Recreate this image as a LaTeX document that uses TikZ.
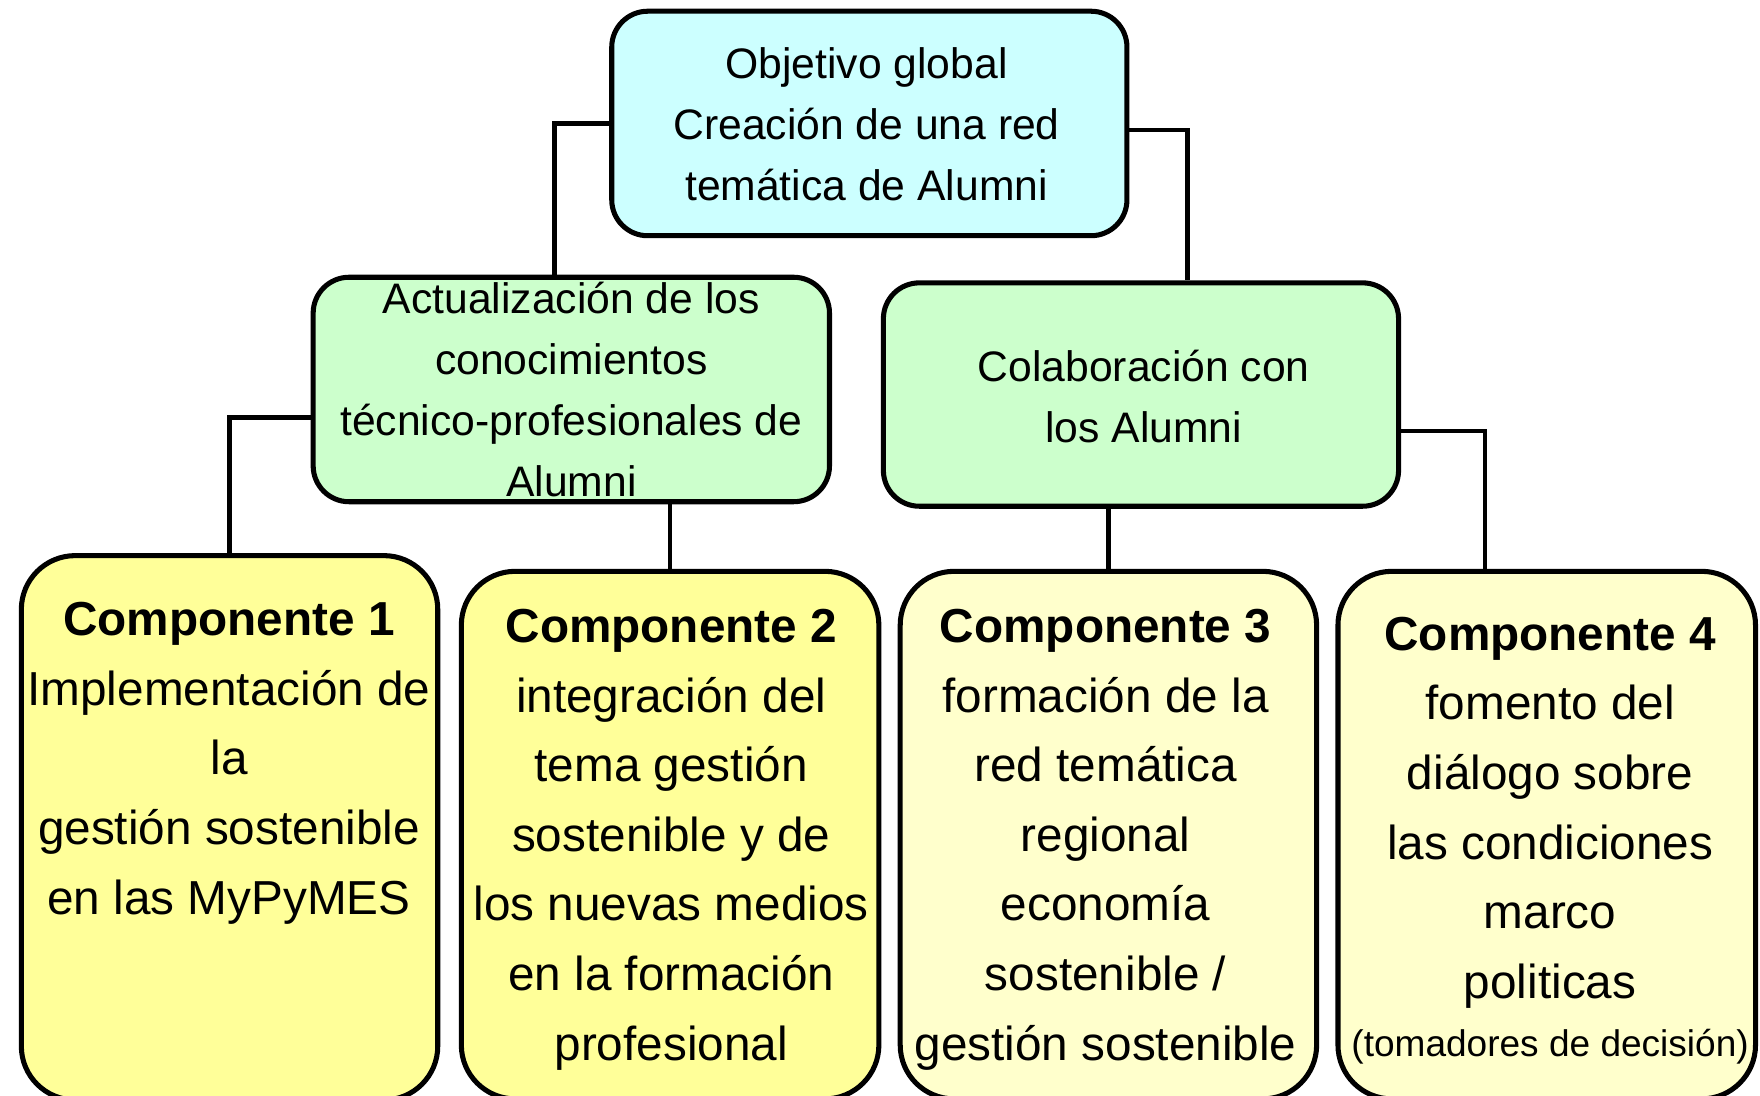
\documentclass[tikz,border=0pt]{standalone}
\usepackage{fontspec}
\setmainfont{Liberation Sans}
\definecolor{topc}{HTML}{CCFFFF}
\definecolor{greenc}{HTML}{CCFFCC}
\definecolor{yelA}{HTML}{FFFF99}
\definecolor{yelB}{HTML}{FFFFCC}
\tikzset{
  boxbase/.style={draw=black, line width=4.5pt, rectangle, inner sep=0pt},
  topbox/.style={boxbase, fill=topc, rounded corners=32pt, minimum width=459pt, minimum height=200pt},
  greenbox/.style={boxbase, fill=greenc, rounded corners=32pt, minimum width=460pt, minimum height=200pt},
  compbox/.style={boxbase, rounded corners=48pt, minimum width=372pt, minimum height=470pt},
  conn/.style={draw=black, line width=4pt},
  midtxt/.style={inner sep=0pt, align=center, font=\fontsize{38}{54.5}\selectfont},
  comptxt/.style={inner sep=0pt, align=center, font=\fontsize{42.5}{62}\selectfont}
}
\begin{document}
\begin{tikzpicture}[x=1pt,y=-1pt]
\useasboundingbox (0,0) rectangle (1568,976);
\clip (0,0) rectangle (1568,976);
% boxes
\node[topbox] (top) at (774.5,110) {};
\node[greenbox] (ga) at (509,347) {};
\node[greenbox, minimum width=459pt, minimum height=199pt] (rg) at (1016.5,351.5) {};
\node[compbox, fill=yelA, minimum width=371pt, minimum height=485pt] (c1) at (204.5,737.5) {};
\node[compbox, fill=yelA] (c2) at (597,744) {};
\node[compbox, fill=yelB, minimum width=371pt] (c3) at (987.5,744) {};
\node[compbox, fill=yelB] (c4) at (1378,744) {};
% connectors
\draw[conn] (top.west) -| ([xshift=-15pt]ga.north);
\draw[conn] ([yshift=-6pt]top.east) -| ([xshift=41.5pt]rg.north);
\draw[conn] ([yshift=-25pt]ga.west) -| (c1.north);
\draw[conn] (ga.south -| c2.north) -- (c2.north);
\draw[conn] (rg.south -| c3.north) -- (c3.north);
\draw[conn] ([yshift=-32.5pt]rg.east) -| ([xshift=-55pt]c4.north);
% texts
\node[midtxt] (ttop) at (772,110.5) {Objetivo global\\Creación de una red\\temática de Alumni};
\node[midtxt] (tga) at (509,347) {Actualización de los\\conocimientos\\técnico-profesionales de\\Alumni};
\node[midtxt] (trg) at (1019,353) {Colaboración con\\los Alumni};
\node[comptxt] (tc1) at (204,680) {\textbf{Componente 1}\\Implementación de\\la\\gestión sostenible\\en las MyPyMES};
\node[comptxt] (tc2) at (598,748) {\textbf{Componente 2}\\integración del\\tema gestión\\sostenible y de\\los nuevas medios\\en la formación\\profesional};
\node[comptxt] (tc3) at (985,748) {\textbf{Componente 3}\\formación de la\\red temática\\regional\\economía\\sostenible /\\gestión sostenible};
\node[comptxt] (tc4) at (1381,749) {\textbf{Componente 4}\\fomento del\\diálogo sobre\\las condiciones\\marco\\politicas\\[-10pt]{\fontsize{33}{40}\selectfont(tomadores de decisión)}};
\end{tikzpicture}
\end{document}
